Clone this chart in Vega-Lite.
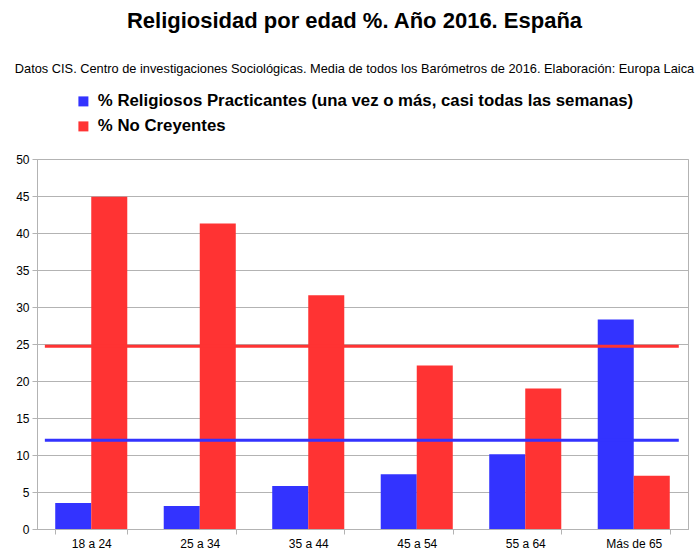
{
  "$schema": "https://vega.github.io/schema/vega-lite/v6.json",
  "autosize": "none",
  "width": 651,
  "height": 370,
  "padding": {"left": 37, "top": 159, "right": 12, "bottom": 29},
  "background": "white",
  "title": {
    "text": "Religiosidad por edad %. Año 2016. España",
    "subtitle": "Datos CIS. Centro de investigaciones Sociológicas. Media de todos los Barómetros de 2016. Elaboración: Europa Laica",
    "anchor": "middle",
    "dx": -8,
    "offset": 16,
    "font": "Liberation Sans",
    "fontSize": 22,
    "fontWeight": "bold",
    "color": "#000000",
    "subtitleFont": "Liberation Sans",
    "subtitleFontSize": 12.8,
    "subtitleColor": "#000000",
    "subtitlePadding": 30
  },
  "config": {
    "view": {"stroke": "#b3b3b3", "strokeWidth": 1},
    "font": "Liberation Sans",
    "axis": {
      "labelFont": "Liberation Sans",
      "labelFontSize": 12,
      "labelColor": "#000000",
      "domainColor": "#b3b3b3",
      "tickColor": "#b3b3b3",
      "gridColor": "#b3b3b3",
      "tickSize": 5
    }
  },
  "datasets": {
    "barras": [
      {"edad": "18 a 24", "serie": "% Religiosos Practicantes (una vez o más, casi todas las semanas)", "valor": 3.5},
      {"edad": "18 a 24", "serie": "% No Creyentes", "valor": 44.9},
      {"edad": "25 a 34", "serie": "% Religiosos Practicantes (una vez o más, casi todas las semanas)", "valor": 3.1},
      {"edad": "25 a 34", "serie": "% No Creyentes", "valor": 41.3},
      {"edad": "35 a 44", "serie": "% Religiosos Practicantes (una vez o más, casi todas las semanas)", "valor": 5.8},
      {"edad": "35 a 44", "serie": "% No Creyentes", "valor": 31.6},
      {"edad": "45 a 54", "serie": "% Religiosos Practicantes (una vez o más, casi todas las semanas)", "valor": 7.4},
      {"edad": "45 a 54", "serie": "% No Creyentes", "valor": 22.1},
      {"edad": "55 a 64", "serie": "% Religiosos Practicantes (una vez o más, casi todas las semanas)", "valor": 10.1},
      {"edad": "55 a 64", "serie": "% No Creyentes", "valor": 19.0},
      {"edad": "Más de 65", "serie": "% Religiosos Practicantes (una vez o más, casi todas las semanas)", "valor": 28.3},
      {"edad": "Más de 65", "serie": "% No Creyentes", "valor": 7.2}
    ],
    "medias": [
      {"serie": "% Religiosos Practicantes (una vez o más, casi todas las semanas)", "valor": 12.0},
      {"serie": "% No Creyentes", "valor": 24.7}
    ]
  },
  "encoding": {
    "y": {
      "field": "valor", "type": "quantitative", "title": null,
      "scale": {"domain": [0, 50], "nice": false, "zero": true},
      "axis": {"values": [0, 5, 10, 15, 20, 25, 30, 35, 40, 45, 50], "grid": true, "labelPadding": 3, "labelOverlap": false}
    },
    "color": {
      "field": "serie", "type": "nominal",
      "scale": {
        "domain": ["% Religiosos Practicantes (una vez o más, casi todas las semanas)", "% No Creyentes"],
        "range": ["#3333ff", "#ff3333"]
      },
      "legend": {
        "title": null,
        "orient": "none",
        "legendX": 38,
        "legendY": -66,
        "symbolType": "square",
        "symbolSize": 100,
        "symbolStrokeWidth": 0,
        "symbolOpacity": 1,
        "labelFont": "Liberation Sans",
        "labelFontSize": 16.8,
        "labelFontWeight": "bold",
        "labelColor": "#000000",
        "labelLimit": 700,
        "rowPadding": 7,
        "labelOffset": 6
      }
    }
  },
  "layer": [
    {
      "data": {"name": "barras"},
      "mark": {"type": "bar"},
      "encoding": {
        "x": {
          "field": "edad", "type": "nominal", "title": null,
          "sort": ["18 a 24", "25 a 34", "35 a 44", "45 a 54", "55 a 64", "Más de 65"],
          "scale": {"paddingInner": 0.336, "paddingOuter": 0.168},
          "axis": {"labelAngle": 0, "tickBand": "extent", "labelPadding": 4, "domainColor": "#b3b3b3"}
        },
        "xOffset": {
          "field": "serie", "type": "nominal",
          "sort": ["% Religiosos Practicantes (una vez o más, casi todas las semanas)", "% No Creyentes"],
          "scale": {"paddingInner": 0, "paddingOuter": 0}
        }
      }
    },
    {
      "data": {"name": "medias"},
      "mark": {"type": "rule", "strokeWidth": 3},
      "encoding": {
        "x": {"datum": "18 a 24", "type": "nominal", "bandPosition": -0.144},
        "x2": {"datum": "Más de 65", "bandPosition": 1.125}
      }
    }
  ]
}
